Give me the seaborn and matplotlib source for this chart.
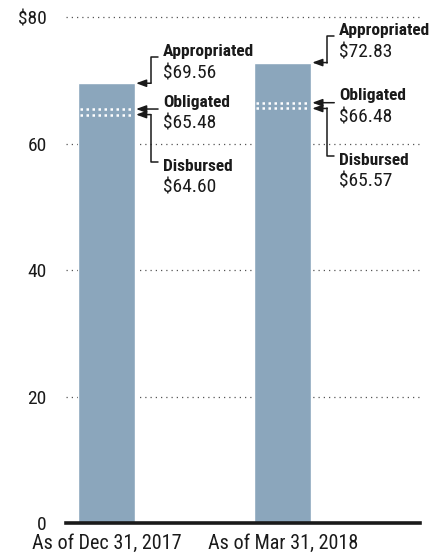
import numpy as np
import pandas as pd
import matplotlib
matplotlib.use('Agg')
import matplotlib.pyplot as plt
import seaborn as sns

# data (billions of dollars)
periods = ['As of Dec 31, 2017', 'As of Mar 31, 2018']
appropriated = [69.56, 72.83]
obligated = [65.48, 66.48]
disbursed = [64.60, 65.57]
y_ticks = [0, 20, 40, 60, 80]
y_labels = ['0', '20', '40', '60', '$80']

sns.set_style('white')
plt.rcParams['font.family'] = ['Roboto Condensed', 'Archivo Narrow', 'DejaVu Sans']

bar_color = '#8ba6bc'
text_color = '#1a1a1a'
bar_w = 0.324

df = pd.DataFrame({'period': periods, 'appropriated': appropriated})

fig = plt.figure(figsize=(4.34, 5.56), dpi=100)
ax = fig.add_axes([0.152, 0.0594, 0.816, 0.9096])

for t in y_ticks[1:]:
    ax.axhline(t, color='#555555', lw=0.9, ls=(0, (1, 3.2)), zorder=0, clip_on=False)

sns.barplot(data=df, x='period', y='appropriated', color=bar_color,
            width=bar_w, saturation=1, ax=ax, zorder=2)

ax.set_xlim(-0.23, 1.78)
ax.set_ylim(0, 80)
ax.set_yticks(y_ticks)
ax.set_yticklabels(y_labels)
ax.set_xlabel('')
ax.set_ylabel('')
for s in ['top', 'right', 'left']:
    ax.spines[s].set_visible(False)
ax.spines['bottom'].set_linewidth(2.6)
ax.spines['bottom'].set_color('#1a1a1a')
ax.tick_params(axis='y', length=0, pad=14, labelsize=14, labelcolor=text_color)
ax.tick_params(axis='x', length=0, pad=8, labelsize=14.5, labelcolor=text_color)

px = 1 / 176.0  # x units per pixel
val_size = 14

for i in range(len(periods)):
    left = i - bar_w / 2
    edge = i + bar_w / 2
    # white dotted lines inside bar
    for v in (obligated[i], disbursed[i]):
        ax.plot([left + 2 * px, edge - 2 * px], [v, v], color='white', lw=1.8,
                ls=(0, (1, 1.4)), zorder=3)

    bx = edge + 16 * px
    hx = edge + 23 * px
    tx = edge + 28 * px
    arrow = dict(arrowstyle='-|>,head_length=0.6,head_width=0.22',
                 color=text_color, lw=1.1, shrinkA=0, shrinkB=0)

    # appropriated
    a = appropriated[i]
    ax.plot([bx, bx, hx], [a, a + 4.2, a + 4.2], color=text_color, lw=1.1,
            zorder=4, clip_on=False)
    ax.annotate('', xy=(edge + 1 * px, a), xytext=(bx, a), arrowprops=arrow,
                annotation_clip=False)
    ax.text(tx, a + 5.0, 'Appropriated', fontsize=12.5, fontweight='bold',
            color=text_color, va='center', ha='left')
    ax.text(tx, a + 1.6, f'${a:.2f}', fontsize=val_size, color=text_color,
            va='center', ha='left')

    # obligated
    o = obligated[i]
    ax.annotate('', xy=(edge + 1 * px, o), xytext=(hx, o), arrowprops=arrow,
                annotation_clip=False)
    ax.text(tx, o + 1.1, 'Obligated', fontsize=12.5, fontweight='bold',
            color=text_color, va='center', ha='left')
    ax.text(tx, o - 2.3, f'${o:.2f}', fontsize=val_size, color=text_color,
            va='center', ha='left')

    # disbursed
    d = disbursed[i]
    ax.plot([bx, bx, hx], [d, d - 7.5, d - 7.5], color=text_color, lw=1.1,
            zorder=4, clip_on=False)
    ax.annotate('', xy=(edge + 1 * px, d), xytext=(bx, d), arrowprops=arrow,
                annotation_clip=False)
    ax.text(tx, d - 8.2, 'Disbursed', fontsize=12.5, fontweight='bold',
            color=text_color, va='center', ha='left')
    ax.text(tx, d - 11.6, f'${d:.2f}', fontsize=val_size, color=text_color,
            va='center', ha='left')

fig.savefig('out.png', dpi=100)
plt.close(fig)
